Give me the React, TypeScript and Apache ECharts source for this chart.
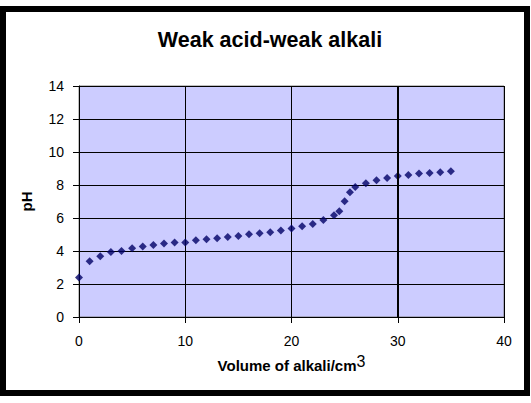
import React, { useEffect, useRef } from "react";
import * as echarts from "echarts";

const volumes = [0, 1, 2, 3, 4, 5, 6, 7, 8, 9, 10, 11, 12, 13, 14, 15, 16, 17, 18, 19, 20, 21, 22, 23, 24, 24.5, 25, 25.5, 26, 27, 28, 29, 30, 31, 32, 33, 34, 35];
const phValues = [2.4, 3.38, 3.68, 3.94, 4.0, 4.16, 4.28, 4.36, 4.46, 4.52, 4.52, 4.65, 4.71, 4.77, 4.85, 4.91, 5.01, 5.07, 5.13, 5.25, 5.37, 5.5, 5.64, 5.88, 6.17, 6.41, 7.02, 7.56, 7.88, 8.11, 8.29, 8.42, 8.55, 8.6, 8.7, 8.73, 8.77, 8.83];
const titleText = "Weak acid-weak alkali";
const xAxisName = "Volume of alkali/cm";
const xAxisSup = "3";
const yAxisName = "pH";
const heavyGridAt = [30];

const FONT = "'Liberation Sans', Arial, sans-serif";

export default function App() {
  const ref = useRef<HTMLDivElement>(null);
  useEffect(() => {
    document.body.style.margin = "0";
    const chart = echarts.init(ref.current!, null, { renderer: "svg" });
    chart.setOption({
      animation: false,
      backgroundColor: "#ffffff",
      title: {
        text: titleText,
        left: 265,
        top: 24,
        textAlign: "center",
        textStyle: { fontFamily: FONT, fontSize: 21.5, fontWeight: "bold", color: "#000" },
      },
      graphic: [
        {
          type: "rect",
          shape: { x: 3, y: 9, width: 524, height: 384 },
          style: { fill: "none", stroke: "#000", lineWidth: 6 },
          silent: true,
        },
      ],
      grid: {
        left: 79,
        right: 27,
        top: 86,
        bottom: 86,
        show: true,
        backgroundColor: "#CCCCFF",
        borderColor: "#808080",
        borderWidth: 1,
      },
      xAxis: {
        type: "value",
        min: 0,
        max: 40,
        interval: 10,
        name: "{a|" + xAxisName + "}{sup|" + xAxisSup + "}",
        nameLocation: "middle",
        nameGap: 36,
        nameTextStyle: {
          rich: {
            a: { fontFamily: FONT, fontSize: 15, fontWeight: "bold", color: "#000" },
            sup: { fontFamily: FONT, fontSize: 16, color: "#000", verticalAlign: "bottom", padding: [0, 0, 8, 0] },
          },
        },
        axisLine: { onZero: false, lineStyle: { color: "#000", width: 1 } },
        axisTick: { show: true, inside: false, length: 6, lineStyle: { color: "#000" } },
        axisLabel: { fontFamily: FONT, fontSize: 14, color: "#000", margin: 17 },
        splitLine: { show: true, lineStyle: { color: "#000", width: 1 } },
      },
      yAxis: {
        type: "value",
        min: 0,
        max: 14,
        interval: 2,
        name: yAxisName,
        nameLocation: "middle",
        nameRotate: 90,
        nameGap: 45,
        nameTextStyle: { fontFamily: FONT, fontSize: 15, fontWeight: "bold", color: "#000" },
        axisLine: { show: true, lineStyle: { color: "#000", width: 1 } },
        axisTick: { show: true, inside: false, length: 6, lineStyle: { color: "#000" } },
        axisLabel: { fontFamily: FONT, fontSize: 14, color: "#000", margin: 15 },
        splitLine: { show: true, lineStyle: { color: "#000", width: 1 } },
      },
      series: [
        {
          type: "scatter",
          symbol: "diamond",
          symbolSize: 8,
          itemStyle: { color: "#000066" },
          data: volumes.map((v, i) => [v, phValues[i]]),
          markLine: {
            silent: true,
            symbol: "none",
            label: { show: false },
            lineStyle: { color: "#000", width: 2, type: "solid" },
            data: heavyGridAt.map((x) => ({ xAxis: x })),
          },
          z: 3,
        },
      ],
    });
    return () => chart.dispose();
  }, []);
  return <div ref={ref} style={{ width: 531, height: 403 }} />;
}
